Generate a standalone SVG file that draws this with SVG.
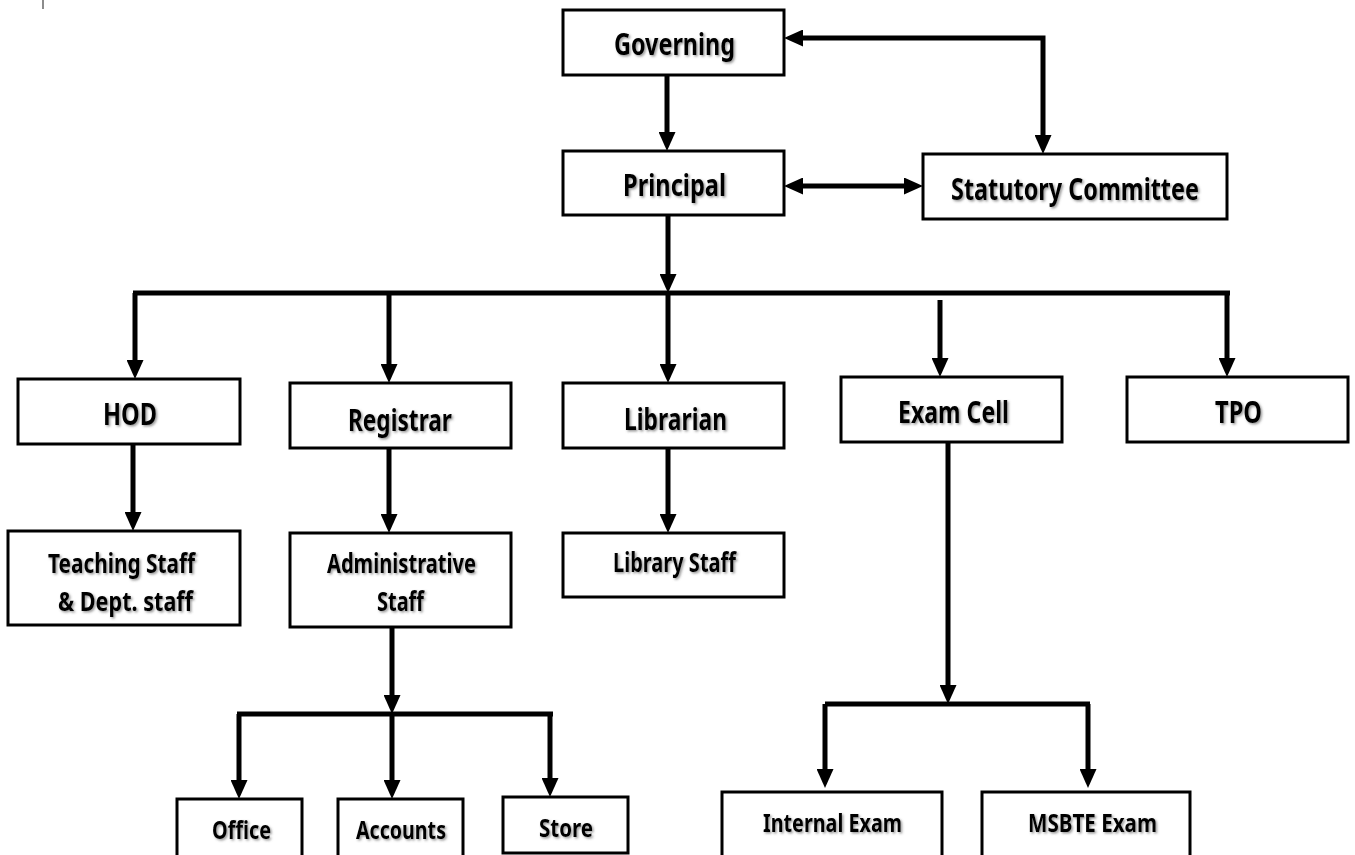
<svg xmlns="http://www.w3.org/2000/svg" width="1355" height="855" viewBox="0 0 1355 855">
<style>
.box{fill:#fff;stroke:#000;stroke-width:3}
.lbl{font-family:"Noto Sans","Liberation Sans",sans-serif;font-weight:700;fill:#000;text-anchor:start;filter:url(#sh)}
.c{fill:none;stroke:#000;stroke-width:5}
</style>
<defs>
<filter id="sh" x="-10%" y="-30%" width="120%" height="160%">
<feDropShadow dx="1.5" dy="1.5" stdDeviation="1" flood-color="#555" flood-opacity="0.6"/>
</filter>
<marker id="ah" viewBox="0 0 19 17" refX="0" refY="8.5" markerWidth="19" markerHeight="17" markerUnits="userSpaceOnUse" orient="auto-start-reverse">
<path d="M0,0 L19,8.5 L0,17 z" fill="#000"/>
</marker>
</defs>
<rect width="1355" height="855" fill="#fff"/>
<line x1="43" y1="0" x2="43" y2="9" stroke="#666" stroke-width="1.5"/>
<g id="connectors">
<path class="c" d="M667,75 V132" marker-end="url(#ah)"/>
<path class="c" d="M803,38 H1043 V135" marker-start="url(#ah)" marker-end="url(#ah)"/>
<path class="c" d="M803,186 H904" marker-start="url(#ah)" marker-end="url(#ah)"/>
<path class="c" d="M668,215 V274" marker-end="url(#ah)"/>
<path class="c" d="M133,293 H1230"/>
<path class="c" d="M135,293 V360" marker-end="url(#ah)"/>
<path class="c" d="M389,293 V364" marker-end="url(#ah)"/>
<path class="c" d="M668,293 V364" marker-end="url(#ah)"/>
<path class="c" d="M940,300 V358" marker-end="url(#ah)"/>
<path class="c" d="M1227,293 V358" marker-end="url(#ah)"/>
<path class="c" d="M133,444 V512" marker-end="url(#ah)"/>
<path class="c" d="M389,448 V514" marker-end="url(#ah)"/>
<path class="c" d="M668,448 V514" marker-end="url(#ah)"/>
<path class="c" d="M948,442 V685" marker-end="url(#ah)"/>
<path class="c" d="M825,704 H1090"/>
<path class="c" d="M825,704 V769" marker-end="url(#ah)"/>
<path class="c" d="M1088,704 V769" marker-end="url(#ah)"/>
<path class="c" d="M392,627 V695" marker-end="url(#ah)"/>
<path class="c" d="M237,714 H553"/>
<path class="c" d="M239,714 V780" marker-end="url(#ah)"/>
<path class="c" d="M392,714 V780" marker-end="url(#ah)"/>
<path class="c" d="M550,714 V778" marker-end="url(#ah)"/>
</g>
<g id="governing"><rect class="box" x="563" y="10" width="221" height="65"/><text class="lbl" x="614" y="55" font-size="30" textLength="121" lengthAdjust="spacingAndGlyphs">Governing</text></g>
<g id="principal"><rect class="box" x="563" y="151" width="221" height="64"/><text class="lbl" x="623" y="196" font-size="30" textLength="103" lengthAdjust="spacingAndGlyphs">Principal</text></g>
<g id="statutory"><rect class="box" x="923" y="154" width="304" height="65"/><text class="lbl" x="951" y="200" font-size="30" textLength="248" lengthAdjust="spacingAndGlyphs">Statutory Committee</text></g>
<g id="hod"><rect class="box" x="18" y="379" width="222" height="65"/><text class="lbl" x="103" y="425" font-size="30" textLength="54" lengthAdjust="spacingAndGlyphs">HOD</text></g>
<g id="registrar"><rect class="box" x="290" y="383" width="221" height="65"/><text class="lbl" x="348" y="431" font-size="30" textLength="104" lengthAdjust="spacingAndGlyphs">Registrar</text></g>
<g id="librarian"><rect class="box" x="563" y="383" width="221" height="65"/><text class="lbl" x="624" y="430" font-size="30" textLength="103" lengthAdjust="spacingAndGlyphs">Librarian</text></g>
<g id="examcell"><rect class="box" x="841" y="377" width="221" height="65"/><text class="lbl" x="898" y="423" font-size="30" textLength="111" lengthAdjust="spacingAndGlyphs">Exam Cell</text></g>
<g id="tpo"><rect class="box" x="1127" y="377" width="221" height="65"/><text class="lbl" x="1215" y="423" font-size="30" textLength="47" lengthAdjust="spacingAndGlyphs">TPO</text></g>
<g id="teaching"><rect class="box" x="8" y="531" width="232" height="94"/><text class="lbl" x="48" y="573" font-size="27" textLength="147" lengthAdjust="spacingAndGlyphs">Teaching Staff</text><text class="lbl" x="58" y="611" font-size="27" textLength="135" lengthAdjust="spacingAndGlyphs">&amp; Dept. staff</text></g>
<g id="admin"><rect class="box" x="290" y="533" width="221" height="94"/><text class="lbl" x="327" y="573" font-size="27" textLength="149" lengthAdjust="spacingAndGlyphs">Administrative</text><text class="lbl" x="377" y="611" font-size="27" textLength="47" lengthAdjust="spacingAndGlyphs">Staff</text></g>
<g id="librarystaff"><rect class="box" x="563" y="533" width="221" height="64"/><text class="lbl" x="613" y="572" font-size="27" textLength="123" lengthAdjust="spacingAndGlyphs">Library Staff</text></g>
<g id="office"><rect class="box" x="177" y="799" width="125" height="62"/><text class="lbl" x="212" y="839" font-size="25" textLength="59" lengthAdjust="spacingAndGlyphs">Office</text></g>
<g id="accounts"><rect class="box" x="338" y="799" width="125" height="62"/><text class="lbl" x="356" y="839" font-size="25" textLength="90" lengthAdjust="spacingAndGlyphs">Accounts</text></g>
<g id="store"><rect class="box" x="503" y="797" width="125" height="56"/><text class="lbl" x="539" y="837" font-size="25" textLength="54" lengthAdjust="spacingAndGlyphs">Store</text></g>
<g id="internal"><rect class="box" x="722" y="792" width="220" height="70"/><text class="lbl" x="763" y="832" font-size="25" textLength="139" lengthAdjust="spacingAndGlyphs">Internal Exam</text></g>
<g id="msbte"><rect class="box" x="982" y="792" width="208" height="70"/><text class="lbl" x="1028" y="832" font-size="25" textLength="129" lengthAdjust="spacingAndGlyphs">MSBTE Exam</text></g>
</svg>
